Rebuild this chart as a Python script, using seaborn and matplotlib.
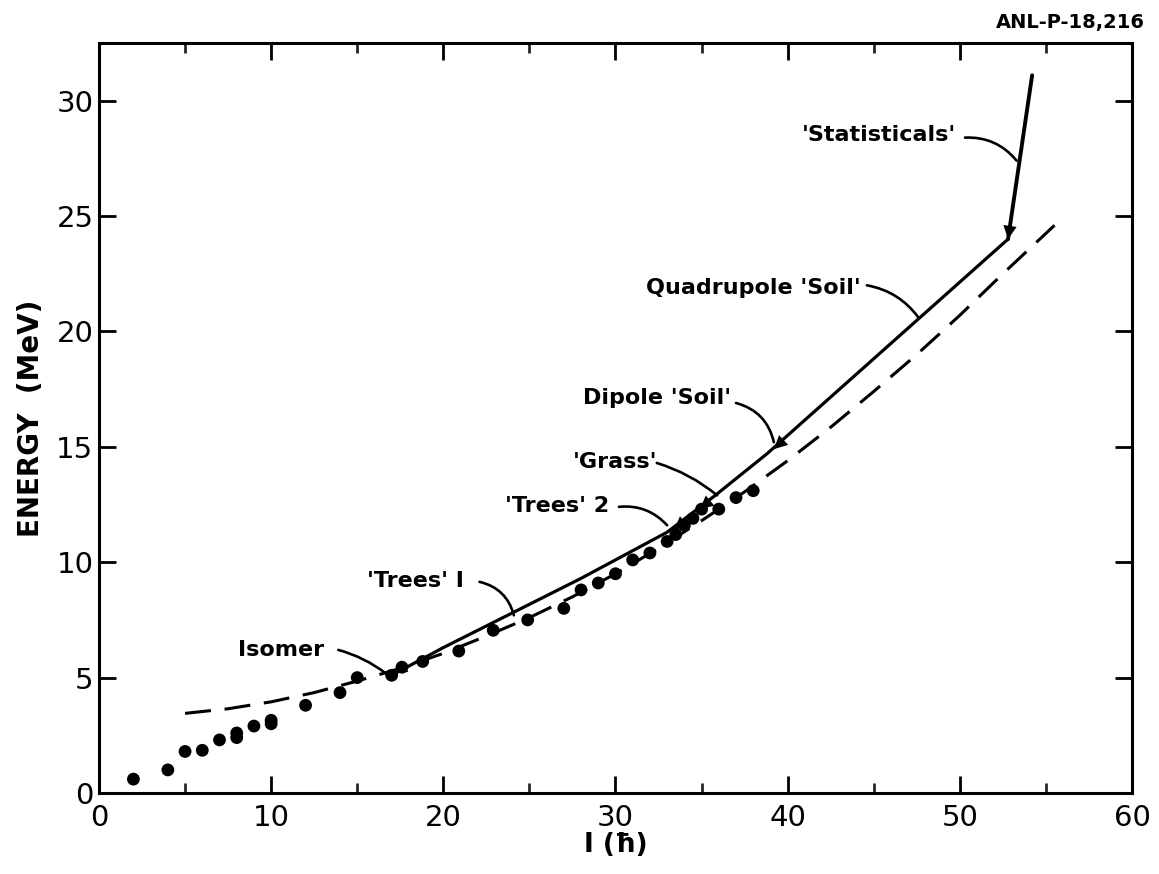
import matplotlib
matplotlib.use("Agg")
import matplotlib.pyplot as plt
import seaborn as sns
import pandas as pd
from matplotlib.ticker import MultipleLocator

# ---- data ----
dots_I = [2, 4, 5, 6, 7, 8, 8, 9, 10, 10, 12, 14, 15, 17, 17.6, 18.8, 20.9, 22.9, 24.9,
          27, 28, 29, 30, 31, 32, 33, 33.5, 34, 34.5, 35, 36, 37, 38]
dots_E = [0.6, 1.0, 1.8, 1.85, 2.3, 2.4, 2.6, 2.9, 3.0, 3.15, 3.8, 4.35, 5.0, 5.1, 5.45, 5.7, 6.15, 7.05, 7.5,
          8.0, 8.8, 9.1, 9.5, 10.1, 10.4, 10.9, 11.2, 11.6, 11.9, 12.3, 12.3, 12.8, 13.1]

dash_I = [5, 7.5, 10, 12.5, 15, 17.5, 20, 22.5, 25, 27.5, 30, 32.5, 35, 37.5, 40, 42.5, 45, 47.5, 50, 52.5, 55.5]
dash_E = [3.45, 3.65, 3.95, 4.35, 4.85, 5.4, 6.05, 6.8, 7.6, 8.5, 9.5, 10.6, 11.8, 13.05, 14.4, 15.85, 17.4, 19.0, 20.7, 22.5, 24.6]

solid_I = [17.0, 20, 24, 28, 31, 33, 35.8, 38.8, 52.8]
solid_E = [5.1, 6.3, 7.8, 9.3, 10.5, 11.3, 12.9, 14.7, 24.0]

stat_I = [54.2, 52.8]
stat_E = [31.1, 24.0]

x_ticks = [0, 10, 20, 30, 40, 50, 60]
y_ticks = [0, 5, 10, 15, 20, 25, 30]
y_labels = ["0", "5", "10", "15", "20", "25", "30"]

# annotations: text, text position, leader start, leader end, curvature
labels = ["'Statisticals'", "Quadrupole 'Soil'", "Dipole 'Soil'", "'Grass'", "'Trees' 2", "'Trees' I", "Isomer"]
label_xy = [(45.3, 28.5), (38.0, 21.9), (32.4, 17.1), (30.0, 14.35), (26.6, 12.45), (18.4, 9.2), (10.6, 6.2)]
lead_from = [(50.3, 28.4), (44.6, 22.0), (37.0, 16.9), (32.4, 14.3), (30.2, 12.4), (22.1, 9.15), (13.9, 6.2)]
lead_to = [(53.3, 27.4), (47.6, 20.6), (39.2, 15.2), (35.9, 12.9), (33.0, 11.6), (24.1, 7.7), (16.7, 5.16)]
lead_rad = [-0.25, -0.2, -0.3, -0.1, -0.25, -0.3, -0.1]

# arrowheads on the solid lines: tip, and a point behind the tip along the line
head_tip = [(17.1, 5.2), (33.4, 11.4), (34.9, 12.3), (39.2, 14.9), (52.8, 24.0)]
head_tail = [(17.9, 5.55), (34.2, 11.9), (35.7, 12.8), (40.2, 15.6), (53.0, 25.0)]

# ---- plotting ----
sns.set_theme(style="ticks")
plt.rcParams['font.family'] = ['DejaVu Sans']
plt.rcParams['text.color'] = 'black'
plt.rcParams['axes.labelcolor'] = 'black'

fig = plt.figure(figsize=(11.59, 8.74), dpi=100)
ax = fig.add_axes([0.0854, 0.0927, 0.8913, 0.8581])

df_dots = pd.DataFrame({"I": dots_I, "E": dots_E})
df_dash = pd.DataFrame({"I": dash_I, "E": dash_E})
df_solid = pd.DataFrame({"I": solid_I, "E": solid_E})
df_stat = pd.DataFrame({"I": stat_I, "E": stat_E})

sns.lineplot(data=df_dash, x="I", y="E", sort=False, color="black", lw=2.2,
             linestyle=(0, (8.5, 4.5)), ax=ax)
sns.lineplot(data=df_solid, x="I", y="E", sort=False, color="black", lw=2.3, ax=ax)
sns.lineplot(data=df_stat, x="I", y="E", sort=False, color="black", lw=2.8, ax=ax)
sns.scatterplot(data=df_dots, x="I", y="E", color="black", s=85, edgecolor="none", ax=ax, zorder=5)

for tip, tail in zip(head_tip, head_tail):
    ax.annotate("", xy=tip, xytext=tail,
                arrowprops=dict(arrowstyle="-|>", mutation_scale=24, lw=0, color="black",
                                shrinkA=0, shrinkB=0))

for t, xy, a, b, r in zip(labels, label_xy, lead_from, lead_to, lead_rad):
    ax.text(xy[0], xy[1], t, ha="center", va="center", fontsize=16, fontweight="bold", color="black")
    ax.annotate("", xy=b, xytext=a,
                arrowprops=dict(arrowstyle="-", lw=1.9, color="black",
                                connectionstyle=f"arc3,rad={r}", shrinkA=0, shrinkB=0))

ax.set_xlim(0, 60)
ax.set_ylim(0, 32.5)
ax.set_xticks(x_ticks)
ax.set_yticks(y_ticks)
ax.set_yticklabels(y_labels)
ax.xaxis.set_minor_locator(MultipleLocator(5))

for s in ax.spines.values():
    s.set_visible(True)
    s.set_linewidth(2.2)
    s.set_color("black")

ax.tick_params(axis="both", which="major", direction="in", length=12, width=2.0,
               labelsize=21, top=True, right=True, colors="black", pad=8)
ax.tick_params(axis="x", which="minor", direction="in", length=7, width=2.0, top=True)
ax.tick_params(axis="y", which="major", pad=4)

ax.set_xlabel("I (ħ)", fontsize=19, fontweight="bold", labelpad=0, color="black")
ax.set_ylabel("ENERGY  (MeV)", fontsize=20, fontweight="bold", labelpad=8, color="black")

fig.text(0.988, 0.974, "ANL-P-18,216", ha="right", va="center", fontsize=14,
         fontweight="bold", color="black")

fig.savefig("out.png", dpi=100)
